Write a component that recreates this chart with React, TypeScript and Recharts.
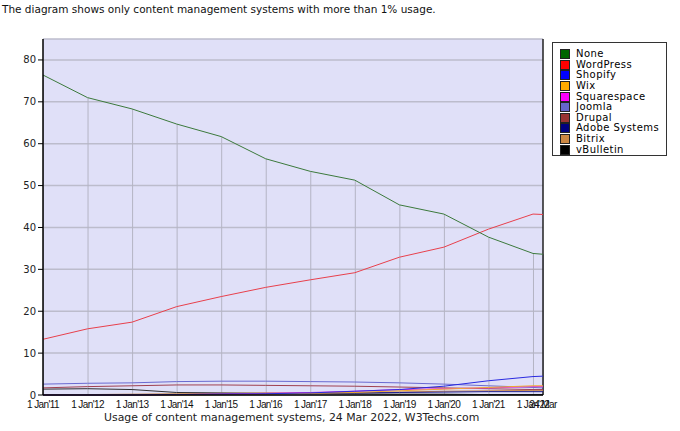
import {
  Bar,
  CartesianGrid,
  ComposedChart,
  Line,
  ReferenceLine,
  XAxis,
  YAxis,
} from 'recharts'

// x positions in fractional years: 1 Jan of each year, plus 24 Mar 2022
const dates = [2011, 2012, 2013, 2014, 2015, 2016, 2017, 2018, 2019, 2020, 2021, 2022, 2022.2247]
const dateLabels = [
  "1 Jan'11", "1 Jan'12", "1 Jan'13", "1 Jan'14", "1 Jan'15", "1 Jan'16",
  "1 Jan'17", "1 Jan'18", "1 Jan'19", "1 Jan'20", "1 Jan'21", "1 Jan'22", '24 Mar',
]
const yTicks = [0, 10, 20, 30, 40, 50, 60, 70, 80]

const none = [76.4, 71.0, 68.3, 64.7, 61.7, 56.4, 53.4, 51.3, 45.4, 43.2, 37.7, 33.8, 33.6]
const wordpress = [13.3, 15.8, 17.4, 21.1, 23.5, 25.7, 27.5, 29.2, 32.9, 35.3, 39.6, 43.2, 43.1]
const shopify = [0, 0, 0, 0.1, 0.2, 0.3, 0.5, 0.9, 1.3, 2.1, 3.4, 4.4, 4.5]
const wix = [0, 0, 0, 0, 0.1, 0.2, 0.4, 0.6, 1.0, 1.4, 1.8, 2.2, 2.2]
const squarespace = [0, 0, 0, 0.1, 0.2, 0.4, 0.6, 0.9, 1.3, 1.5, 1.7, 2.0, 2.0]
const joomla = [2.6, 2.8, 2.9, 3.2, 3.3, 3.3, 3.2, 3.1, 2.9, 2.6, 2.2, 1.8, 1.7]
const drupal = [1.7, 2.0, 2.2, 2.4, 2.4, 2.3, 2.2, 2.1, 1.9, 1.7, 1.5, 1.3, 1.3]
const adobe = [0, 0, 0, 0.1, 0.2, 0.3, 0.4, 0.5, 0.6, 0.7, 0.8, 0.8, 0.8]
const bitrix = [0.1, 0.1, 0.2, 0.3, 0.4, 0.5, 0.5, 0.6, 0.7, 0.9, 1.0, 1.1, 1.1]
const vbulletin = [1.4, 1.5, 1.3, 0.6, 0.5, 0.4, 0.3, 0.3, 0.2, 0.2, 0.1, 0.1, 0.1]

const series = [
  { key: 'None', values: none, color: '#006600', line: '#3c7a3c' },
  { key: 'WordPress', values: wordpress, color: '#ff0000', line: '#e8404c' },
  { key: 'Shopify', values: shopify, color: '#0000ff', line: '#2a2ae0' },
  { key: 'Wix', values: wix, color: '#ffaa00', line: '#f0a830' },
  { key: 'Squarespace', values: squarespace, color: '#ff00ff', line: '#e030e0' },
  { key: 'Joomla', values: joomla, color: '#6666cc', line: '#6a6ad0' },
  { key: 'Drupal', values: drupal, color: '#993333', line: '#a04050' },
  { key: 'Adobe Systems', values: adobe, color: '#000080', line: '#202090' },
  { key: 'Bitrix', values: bitrix, color: '#cc8844', line: '#c88850' },
  { key: 'vBulletin', values: vbulletin, color: '#000000', line: '#303030' },
]

const data = dates.map((d, i) => {
  const row: Record<string, number> = { date: d }
  series.forEach((s) => {
    row[s.key] = s.values[i]
  })
  return row
})

const labelFor = (v: number) => {
  const i = dates.indexOf(v)
  return i >= 0 ? dateLabels[i] : ''
}

function LegendBox() {
  return (
    <div
      style={{
        position: 'absolute',
        left: 552,
        top: 42,
        width: 115,
        height: 114,
        background: '#fff',
        border: '1px solid #333',
        boxSizing: 'border-box',
        padding: '6px 0 0 7px',
        fontFamily: '"DejaVu Sans", Verdana, sans-serif',
        fontSize: 10,
        letterSpacing: 0.45,
        color: '#000',
      }}
    >
      {series.map((s) => (
        <div key={s.key} style={{ display: 'flex', alignItems: 'center', height: 10.6 }}>
          <span
            style={{
              display: 'inline-block',
              width: 8,
              height: 8,
              background: s.color,
              border: '1px solid #222',
              marginRight: 6,
            }}
          />
          <span style={{ lineHeight: '10px' }}>{s.key}</span>
        </div>
      ))}
    </div>
  )
}

export default function App() {
  const xMax = dates[dates.length - 1]
  return (
    <div
      style={{
        position: 'absolute',
        left: 0,
        top: 0,
        width: 680,
        height: 431,
        background: '#fff',
        fontFamily: '"DejaVu Sans", Verdana, sans-serif',
      }}
    >
      <div style={{ position: 'absolute', left: 2, top: 3, fontSize: 10.5, color: '#111', whiteSpace: 'nowrap' }}>
        The diagram shows only content management systems with more than 1% usage.
      </div>
      <ComposedChart
        width={680}
        height={431}
        data={data}
        margin={{ top: 39, right: 137, bottom: 0, left: 0 }}
      >
        <CartesianGrid
          vertical={false}
          fill="#e0e0f8"
          fillOpacity={1}
          stroke="#bcbccc"
          strokeWidth={1.5}
        />
        <XAxis
          dataKey="date"
          type="number"
          domain={[dates[0], xMax]}
          ticks={dates}
          interval={0}
          tickFormatter={labelFor}
          tickLine={false}
          axisLine={{ stroke: '#000', strokeWidth: 1.5 }}
          height={36}
          tickMargin={0}
          tick={{
            fontSize: 10,
            fill: '#111',
            letterSpacing: -0.6,
            fontFamily: '"Liberation Sans", Arial, sans-serif',
          }}
        />
        <YAxis
          domain={[0, 85]}
          ticks={yTicks}
          interval={0}
          width={43}
          axisLine={{ stroke: '#000', strokeWidth: 1.5 }}
          tickLine={{ stroke: '#000' }}
          tickSize={5}
          tick={{ fontSize: 10, fill: '#222' }}
        />
        <Bar dataKey="None" barSize={1} fill="#b4b4c4" isAnimationActive={false} legendType="none" />
        <ReferenceLine x={xMax} stroke="#222" strokeWidth={1.5} />
        {series
          .slice()
          .reverse()
          .map((s) => (
            <Line
              key={s.key}
              type="linear"
              dataKey={s.key}
              stroke={s.line}
              strokeWidth={1}
              dot={false}
              isAnimationActive={false}
            />
          ))}
      </ComposedChart>
      <LegendBox />
      <div
        style={{
          position: 'absolute',
          left: 104,
          top: 411,
          fontSize: 10.9,
          color: '#222',
          whiteSpace: 'nowrap',
        }}
      >
        Usage of content management systems, 24 Mar 2022, W3Techs.com
      </div>
    </div>
  )
}
